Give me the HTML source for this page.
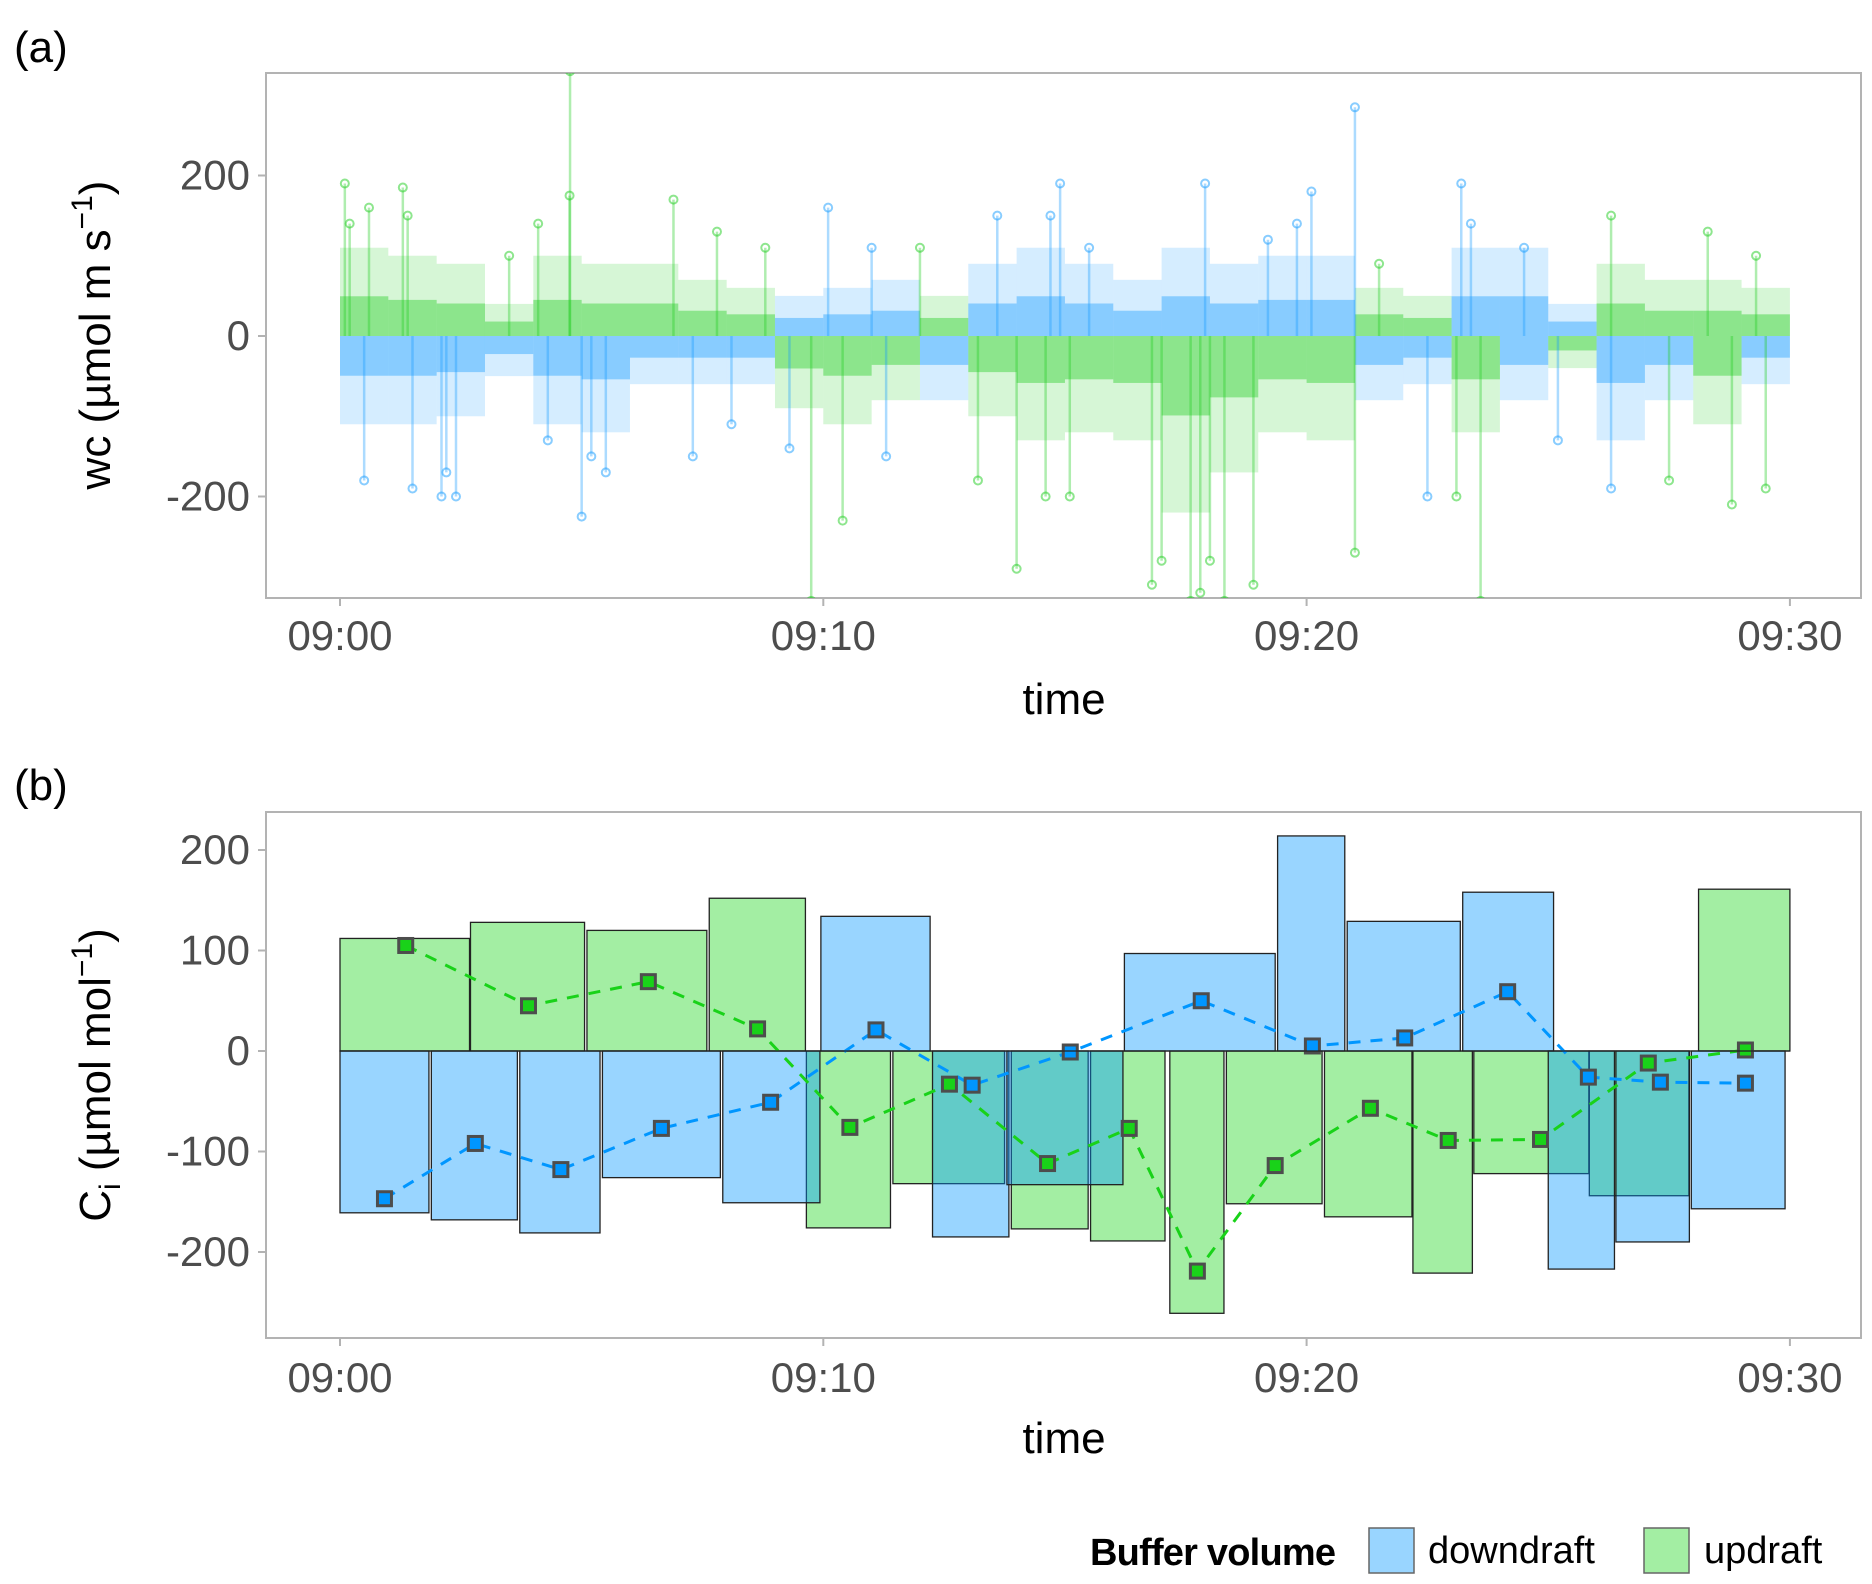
<!DOCTYPE html>
<html><head><meta charset="utf-8"><style>
body{margin:0;background:#fff}
svg{display:block;font-family:"Liberation Sans",sans-serif}
</style></head><body>
<svg id="chart" width="1872" height="1584" viewBox="0 0 1872 1584">
<defs>
<clipPath id="clipA"><rect x="266" y="73" width="1595" height="525"/></clipPath>
<clipPath id="clipB"><rect x="266" y="812" width="1595" height="526"/></clipPath>
</defs>
<text x="14" y="62" font-size="44" fill="#000">(a)</text>
<text x="14" y="800" font-size="44" fill="#000">(b)</text>
<rect x="266" y="73" width="1595" height="525" fill="#fff" stroke="#b3b3b3" stroke-width="2"/>
<rect x="266" y="812" width="1595" height="526" fill="#fff" stroke="#b3b3b3" stroke-width="2"/>
<g id="gA" clip-path="url(#clipA)"></g>
<g id="gB" clip-path="url(#clipB)"></g>
<g id="axes"></g>
<text transform="translate(110,335) rotate(-90)" text-anchor="middle" font-size="44" fill="#000">wc (µmol m s<tspan font-size="30" dy="-18">−1</tspan><tspan dy="18">)</tspan></text>
<text transform="translate(110,1075) rotate(-90)" text-anchor="middle" font-size="44" fill="#000">C<tspan font-size="30" dy="10">i</tspan><tspan dy="-10"> (µmol mol</tspan><tspan font-size="30" dy="-18">−1</tspan><tspan dy="18">)</tspan></text>
<text x="1064" y="714" text-anchor="middle" font-size="44" fill="#000">time</text>
<text x="1064" y="1453" text-anchor="middle" font-size="44" fill="#000">time</text>
<g>
<text x="1090" y="1565" font-size="38" font-weight="bold" fill="#000" textLength="246">Buffer volume</text>
<rect x="1369" y="1528" width="45" height="45" fill="rgba(0,150,255,0.4)" stroke="#666" stroke-width="1.5"/>
<text x="1428" y="1563" font-size="38" fill="#000">downdraft</text>
<rect x="1644" y="1528" width="45" height="45" fill="rgba(25,212,25,0.4)" stroke="#666" stroke-width="1.5"/>
<text x="1704" y="1563" font-size="38" fill="#000">updraft</text>
</g>
</svg>
<script>
// ---------- shared axis data ----------
const xTickMinutes = [0, 10, 20, 30];
const xTickLabels = ["09:00", "09:10", "09:20", "09:30"];
const yTicksA = [200, 0, -200];
const yTicksB = [200, 100, 0, -100, -200];

// ---------- panel a data (per-minute envelopes) ----------
const envUpColor   = ['g','g','g','g','g','g','g','g','g','b','b','b','g','b','b','b','b','b','b','b','b','g','g','b','b','b','g','g','g','g'];
const envUpBand    = [110,100,90,40,100,90,90,70,60,50,60,70,50,90,110,90,70,110,90,100,100,60,50,110,110,40,90,70,70,60];
const envDownColor = ['b','b','b','b','b','b','b','b','b','g','g','g','b','g','g','g','g','g','g','g','g','b','b','g','b','g','b','b','g','b'];
const envDownBand  = [-110,-110,-100,-50,-110,-120,-60,-60,-60,-90,-110,-80,-80,-100,-130,-120,-130,-220,-170,-120,-130,-80,-60,-120,-80,-40,-130,-80,-110,-60];
const spikeMinutes = [0.1,0.2,0.6,1.3,1.5,1.4,0.5,2.1,2.4,2.2,3.5,4.1,4.3,4.76,4.75,5.0,5.2,5.5,6.9,7.3,7.8,8.1,8.8,9.3,9.75,10.1,10.4,11.0,11.3,12.0,13.2,13.6,14.0,14.7,14.9,14.6,15.5,15.1,16.8,17.0,17.6,17.9,17.8,18.3,18.0,18.9,19.2,19.8,20.1,21.0,21.0,21.5,22.5,23.2,23.4,23.6,23.1,24.5,25.2,26.3,26.3,27.5,28.3,28.8,29.3,29.5];
const spikeValues  = [190,140,160,185,-190,150,-180,-200,-200,-170,100,140,-130,330,175,-225,-150,-170,170,-150,130,-110,110,-140,-330,160,-230,110,-150,110,-180,150,-290,150,190,-200,110,-200,-310,-280,-330,190,-320,-330,-280,-310,120,140,180,285,-270,90,-200,190,140,-330,-200,110,-130,150,-190,-180,130,-210,100,-190];
const spikeColors  = ['g','g','g','g','b','g','b','b','b','b','g','g','b','g','g','b','b','b','g','b','g','b','g','b','g','b','g','b','b','g','g','b','g','b','b','g','b','g','g','g','g','b','g','g','g','g','b','b','b','b','g','g','b','b','b','g','g','b','b','g','b','g','g','g','g','g'];

// ---------- panel b data ----------
const greenBarStart = [0,2.70,5.11,7.64,28.11, 9.65,11.44,13.89,15.53,17.17,18.34,20.37,22.20,23.46,25.85];
const greenBarEnd   = [2.68,5.06,7.59,9.63,30.0, 11.39,13.75,15.48,17.07,18.29,20.32,22.18,23.43,25.84,27.91];
const greenBarValue = [112,128,120,152,161, -176,-132,-177,-189,-261,-152,-165,-221,-122,-144];
const blueBarStart  = [9.95,16.23,19.40,20.84,23.23, 0,1.89,3.72,5.43,7.92,12.26,13.80,25.00,26.40,27.96];
const blueBarEnd    = [12.21,19.35,20.79,23.18,25.11, 1.84,3.67,5.38,7.87,9.93,13.84,16.20,26.37,27.92,29.90];
const blueBarValue  = [134,97,214,129,158, -161,-168,-181,-126,-151,-185,-133,-217,-190,-157];
const bluePtTime  = [0.92,2.80,4.57,6.65,8.91,11.09,13.08,15.11,17.82,20.12,22.03,24.16,25.83,27.32,29.08];
const bluePtValue = [-147,-92,-118,-77,-51,21,-34,-1,50,5,13,59,-26,-31,-32];
const greenPtTime  = [1.36,3.90,6.38,8.64,10.55,12.61,14.64,16.33,17.74,19.35,21.32,22.93,24.84,27.07,29.08];
const greenPtValue = [105,45,69,22,-76,-33,-112,-77,-219,-114,-57,-89,-88,-12,1];

// ---------- scales ----------
const NS = 'http://www.w3.org/2000/svg';
function xS(m){ return 340 + m * 48.33; }
function yA(v){ return 336 - v * 0.8025; }
function yB(v){ return 1051 - v * 1.005; }
const COL = {g:'rgb(30,205,30)', b:'rgb(20,155,255)'};
function mk(tag, attrs, parent){ const e=document.createElementNS(NS,tag); for(const k in attrs) e.setAttribute(k,attrs[k]); parent.appendChild(e); return e; }

const gA = document.getElementById('gA');
const gB = document.getElementById('gB');
const axes = document.getElementById('axes');

// ---------- axes ----------
[[598,636],[1338,1378]].forEach(function(p){
  xTickMinutes.forEach(function(m, i){
    const t = mk('line',{x1:xS(m),x2:xS(m),y1:p[0],y2:p[0]+8,stroke:'#b3b3b3','stroke-width':2},axes);
    
    
    const l = mk('text',{x:xS(m),y:p[1]+14,'text-anchor':'middle','font-size':42,fill:'#4d4d4d'},axes);
    l.textContent = xTickLabels[i];
    
    
  });
});
yTicksA.forEach(function(v){
  const t = mk('line',{x1:258,x2:266,y1:yA(v),y2:yA(v),stroke:'#b3b3b3','stroke-width':2},axes);
  
  
  const l = mk('text',{x:250,y:yA(v)+14,'text-anchor':'end','font-size':42,fill:'#4d4d4d'},axes);
  l.textContent = v < 0 ? '-' + Math.abs(v) : String(v);
  
  
});
yTicksB.forEach(function(v){
  const t = mk('line',{x1:258,x2:266,y1:yB(v),y2:yB(v),stroke:'#b3b3b3','stroke-width':2},axes);
  
  
  const l = mk('text',{x:250,y:yB(v)+14,'text-anchor':'end','font-size':42,fill:'#4d4d4d'},axes);
  l.textContent = v < 0 ? '-' + Math.abs(v) : String(v);
  
  
});

// ---------- panel a ----------
for (let i = 0; i < envUpBand.length; i++) {
  const x0 = xS(i), w = xS(i+1) - xS(i);
  const up = mk('rect',{x:x0,y:yA(envUpBand[i]),width:w,height:yA(0)-yA(envUpBand[i]),fill:COL[envUpColor[i]],opacity:0.18},gA);
  
  
  const upc = mk('rect',{x:x0,y:yA(envUpBand[i]*0.45),width:w,height:yA(0)-yA(envUpBand[i]*0.45),fill:COL[envUpColor[i]],opacity:0.4},gA);
  
  
  const dn = mk('rect',{x:x0,y:yA(0),width:w,height:yA(envDownBand[i])-yA(0),fill:COL[envDownColor[i]],opacity:0.18},gA);
  
  
  const dnc = mk('rect',{x:x0,y:yA(0),width:w,height:yA(envDownBand[i]*0.45)-yA(0),fill:COL[envDownColor[i]],opacity:0.4},gA);
  
  
}
for (let i = 0; i < spikeValues.length; i++) {
  const x = xS(spikeMinutes[i]), c = COL[spikeColors[i]];
  const ln = mk('line',{x1:x,x2:x,y1:yA(0),y2:yA(spikeValues[i]),stroke:c,'stroke-width':2.5,opacity:0.35},gA);
  
  
  const pt = mk('circle',{cx:x,cy:yA(spikeValues[i]),r:4,fill:'none',stroke:c,'stroke-width':2,opacity:0.5},gA);
  
  
}

// ---------- panel b ----------
for (let i = 0; i < greenBarValue.length; i++) {
  const v = greenBarValue[i], x0 = xS(greenBarStart[i]), x1 = xS(greenBarEnd[i]);
  const r = mk('rect',{x:x0,y:Math.min(yB(v),yB(0)),width:x1-x0,height:Math.abs(yB(v)-yB(0)),fill:'rgba(25,212,25,0.4)',stroke:'#222','stroke-width':1.3},gB);
  
  
}
for (let i = 0; i < blueBarValue.length; i++) {
  const v = blueBarValue[i], x0 = xS(blueBarStart[i]), x1 = xS(blueBarEnd[i]);
  const r = mk('rect',{x:x0,y:Math.min(yB(v),yB(0)),width:x1-x0,height:Math.abs(yB(v)-yB(0)),fill:'rgba(0,150,255,0.4)',stroke:'#222','stroke-width':1.3},gB);
  
  
}
function series(times, vals, col, name){
  const d = times.map(function(t,i){ return (i?'L':'M') + xS(t) + ',' + yB(vals[i]); }).join(' ');
  const p = mk('path',{d:d,fill:'none',stroke:col,'stroke-width':3,'stroke-dasharray':'12 10'},gB);
  
  
  times.forEach(function(t,i){
    const s = mk('rect',{x:xS(t)-7,y:yB(vals[i])-7,width:14,height:14,fill:col,stroke:'#4d4d4d','stroke-width':3},gB);
    
    
  });
}
series(bluePtTime, bluePtValue, 'rgb(0,150,255)', 'downdraft-mean');
series(greenPtTime, greenPtValue, 'rgb(25,210,25)', 'updraft-mean');
const z = mk('line',{x1:xS(0),x2:xS(30),y1:yB(0),y2:yB(0),stroke:'#222','stroke-width':1.3},gB);


</script>
</body></html>
